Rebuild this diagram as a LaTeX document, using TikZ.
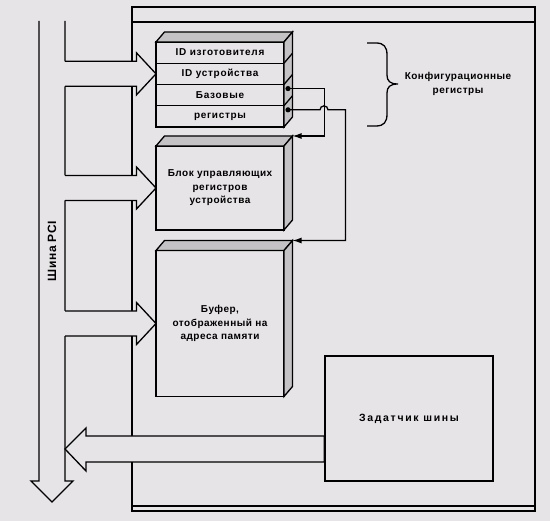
\documentclass[tikz,border=0pt]{standalone}
\usepackage{fontspec}
\setmainfont{Liberation Sans}[LetterSpace=5]
\usetikzlibrary{arrows.meta,calc,positioning}
\definecolor{paper}{RGB}{231,228,232}
\definecolor{stip}{RGB}{196,194,197}
\tikzset{
	row/.style={draw, fill=paper, minimum width=128pt, minimum height=21.25pt, inner sep=0pt, outer sep=0pt, font=\bfseries\fontsize{10}{11}\selectfont\addfontfeature{LetterSpace=7}},
	blk/.style={draw, fill=paper, minimum width=128pt, inner sep=0pt, outer sep=0pt, align=center, font=\bfseries\fontsize{10}{13.5}\selectfont},
	face/.style={draw, fill=stip},
	lbl/.style={align=center, font=\bfseries\fontsize{10}{14.5}\selectfont}
}
\begin{document}
\begin{tikzpicture}[x=1pt, y=-1pt, line width=1.3pt, >={Latex[length=9pt,width=6pt]}, node distance=0pt]
	\fill[paper] (0,0) rectangle (550,521);
	\useasboundingbox (0,0) rectangle (550,521);

	\draw (132,7) rectangle (535,511);
	\draw (132,22) -- (535,22);
	\draw (132,506) -- (535,506);

	\draw (39,21) -- (39,481) -- (31,481) -- (52,502) -- (73,481) -- (65,481) -- (65,21);
	\node[rotate=90, font=\bfseries\fontsize{12}{14}\selectfont] (pci) at (52,251) {Шина PCI};

	\node[row] (id1) at (220,52.6) {ID изготовителя};
	\node[row, below=of id1] (id2) {ID устройства};
	\node[row, below=of id2] (base) {Базовые};
	\node[row, below=of base] (reg) {регистры};
	\node[blk, minimum height=84pt] (ctl) at (220,188) {Блок управляющих\\регистров\\устройства};
	\node[blk, minimum height=146pt] (buf) at (220,323.5) {Буфер,\\отображенный на\\адреса памяти};
	\node[draw, minimum width=168pt, minimum height=125pt, font=\bfseries\fontsize{10.5}{13}\selectfont\addfontfeature{LetterSpace=16}] (mst) at (409,418.5) {Задатчик шины};

	\foreach \a/\b in {id1/reg, ctl/ctl, buf/buf} {
		\draw[face] (\a.north west) -- ++(8.5,-10) -- ($(\a.north east)+(8.5,-10)$) -- (\a.north east) -- cycle;
		\draw[face] (\a.north east) -- ++(8.5,-10) -- ($(\b.south east)+(8.5,-10)$) -- (\b.south east) -- cycle;
	}
	\foreach \r in {id1, id2, base}
		\draw (\r.south east) -- ++(8.5,-10);

	\foreach \t in {id2, ctl, buf} {
		\fill[paper] (\t.west) -- ++(-19.5,-21) -- ++(0,8.5) -- ++(-74,0) -- ++(0,25) -- ++(74,0) -- ++(0,8.5) -- cycle;
		\draw (\t.west) ++(-91,-12.5) -- ++(71.5,0) -- ++(0,-8.5) -- (\t.west) -- ++(-19.5,21) -- ++(0,-8.5) -- ++(-71.5,0);
	}
	\filldraw[fill=paper] (mst.west |- 0,436) -- (86,436) -- (86,428) -- (65,449) -- (86,471) -- (86,462) -- (mst.west |- 0,462) -- cycle;

	\coordinate (d1) at ($(base.east)+(4,-6.5)$);
	\coordinate (d2) at ($(reg.east)+(4,-6.5)$);
	\coordinate (c2) at ($(ctl.north east)+(8.5,-10)$);
	\coordinate (c3) at ($(buf.north east)+(8.5,-10)$);
	\fill (d1) circle (2.6);
	\fill (d2) circle (2.6);
	\draw[->] (d1) -- ++(36.5,0) |- (c2);
	\draw[->] (d2) -- ++(32,0) arc[start angle=180, end angle=360, radius=4] -- ++(17.5,0) |- (c3);

	\draw (367,43) -- (376,43) .. controls (384,43) and (387,47) .. (387,55) -- (387,75) .. controls (387,81) and (390,84) .. (398,84) .. controls (390,84) and (387,87) .. (387,93) -- (387,114) .. controls (387,122) and (384,126) .. (376,126) -- (367,126);
	\node[lbl] (cfg) at (458,84) {Конфигурационные\\регистры};
\end{tikzpicture}
\end{document}
